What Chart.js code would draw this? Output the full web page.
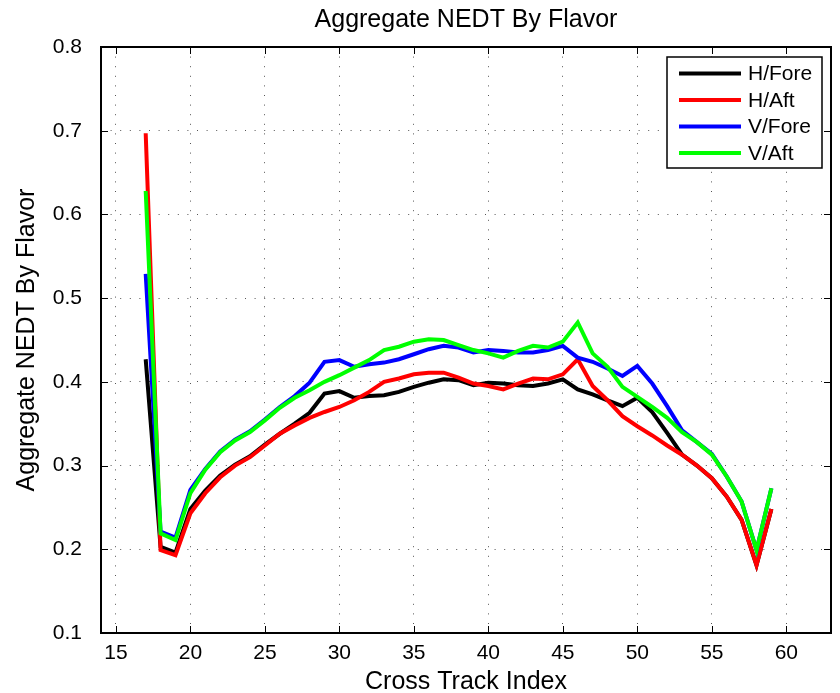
<!DOCTYPE html>
<html>
<head>
<meta charset="utf-8">
<script src="https://cdn.jsdelivr.net/npm/chart.js@4.4.1/dist/chart.umd.min.js"></script>
<style>
  html, body { margin: 0; padding: 0; background: #fff; }
  canvas { display: block; }
</style>
</head>
<body>
<canvas id="c" width="840" height="693"></canvas>
<script>
// ---- data ----
const trackIndex = [17,18,19,20,21,22,23,24,25,26,27,28,29,30,31,32,33,34,35,36,37,38,39,40,41,42,43,44,45,46,47,48,49,50,51,52,53,54,55,56,57,58,59];
const seriesNames = ['H/Fore', 'H/Aft', 'V/Fore', 'V/Aft'];
const hFore = [0.427,0.203,0.196,0.248,0.270,0.288,0.301,0.311,0.325,0.338,0.350,0.363,0.386,0.389,0.381,0.383,0.384,0.388,0.394,0.399,0.403,0.402,0.396,0.399,0.398,0.396,0.395,0.398,0.403,0.391,0.385,0.378,0.371,0.381,0.364,0.339,0.313,0.300,0.285,0.263,0.235,0.181,0.248];
const hAft  = [0.697,0.199,0.193,0.243,0.267,0.286,0.300,0.310,0.324,0.338,0.348,0.357,0.364,0.370,0.378,0.388,0.400,0.404,0.409,0.411,0.411,0.405,0.398,0.395,0.391,0.398,0.404,0.403,0.409,0.427,0.395,0.378,0.359,0.347,0.336,0.324,0.313,0.300,0.285,0.263,0.235,0.181,0.248];
const vFore = [0.529,0.221,0.214,0.271,0.296,0.317,0.331,0.341,0.355,0.370,0.383,0.399,0.424,0.426,0.418,0.421,0.423,0.427,0.433,0.439,0.443,0.441,0.435,0.438,0.437,0.435,0.435,0.438,0.443,0.429,0.424,0.416,0.407,0.419,0.398,0.371,0.342,0.328,0.314,0.287,0.257,0.199,0.273];
const vAft  = [0.628,0.219,0.211,0.267,0.295,0.316,0.330,0.340,0.354,0.369,0.381,0.390,0.400,0.408,0.417,0.426,0.438,0.442,0.448,0.451,0.450,0.444,0.438,0.434,0.429,0.437,0.443,0.441,0.448,0.471,0.434,0.418,0.394,0.382,0.370,0.357,0.340,0.328,0.313,0.287,0.257,0.199,0.273];
const xTicks = [15,20,25,30,35,40,45,50,55,60];
const yTicks = [0.1,0.2,0.3,0.4,0.5,0.6,0.7,0.8];
const chartTitle = 'Aggregate NEDT By Flavor';
const xTitle = 'Cross Track Index';
const yTitle = 'Aggregate NEDT By Flavor';

// ---- styling ----
const FONT = "'Liberation Sans', Arial, Helvetica, sans-serif";
const colors = ['#000000', '#ff0000', '#0000ff', '#00ff00'];
const allSeries = [hFore, hAft, vFore, vAft];

const datasets = allSeries.map((vals, i) => ({
  label: seriesNames[i],
  data: trackIndex.map((x, j) => ({ x: x, y: vals[j] })),
  borderColor: colors[i],
  backgroundColor: colors[i],
  borderWidth: 4,
  pointRadius: 0,
  tension: 0,
  fill: false,
  order: 4 - i
}));

const TICK_LEN = 7;

const framePlugin = {
  id: 'frame',
  afterDatasetsDraw(chart) {
    const { ctx, chartArea: a, scales } = chart;
    ctx.save();
    ctx.strokeStyle = '#000';
    ctx.lineWidth = 1;
    ctx.beginPath();
    xTicks.forEach(v => {
      const px = Math.round(scales.x.getPixelForValue(v)) + 0.5;
      ctx.moveTo(px, a.bottom); ctx.lineTo(px, a.bottom - TICK_LEN);
      ctx.moveTo(px, a.top); ctx.lineTo(px, a.top + TICK_LEN);
    });
    yTicks.forEach(v => {
      const py = Math.round(scales.y.getPixelForValue(v)) + 0.5;
      ctx.moveTo(a.left, py); ctx.lineTo(a.left + TICK_LEN, py);
      ctx.moveTo(a.right, py); ctx.lineTo(a.right - TICK_LEN, py);
    });
    ctx.stroke();
    ctx.lineWidth = 2;
    ctx.strokeRect(a.left, a.top, a.right - a.left, a.bottom - a.top);
    ctx.restore();
  },
  afterDraw(chart) {
    // legend box (inside plot, top-right)
    const { ctx, chartArea: a } = chart;
    const boxR = a.right - 9, boxT = a.top + 10, boxW = 155, boxH = 111;
    const boxL = boxR - boxW;
    ctx.save();
    ctx.fillStyle = '#fff';
    ctx.fillRect(boxL, boxT, boxW, boxH);
    ctx.strokeStyle = '#000';
    ctx.lineWidth = 1.5;
    ctx.strokeRect(boxL, boxT, boxW, boxH);
    ctx.font = '21px ' + FONT;
    ctx.textBaseline = 'middle';
    ctx.textAlign = 'left';
    chart.data.datasets.forEach((ds, i) => {
      const y = boxT + 16.5 + i * 26.5;
      ctx.strokeStyle = ds.borderColor;
      ctx.lineWidth = 4;
      ctx.beginPath();
      ctx.moveTo(boxL + 12, y);
      ctx.lineTo(boxL + 74, y);
      ctx.stroke();
      ctx.fillStyle = '#000';
      ctx.fillText(ds.label, boxL + 81, y + 1);
    });
    ctx.restore();
  }
};

new Chart(document.getElementById('c'), {
  type: 'line',
  data: { datasets },
  plugins: [framePlugin],
  options: {
    responsive: false,
    animation: false,
    layout: { padding: { left: 0, right: 9, top: 0, bottom: 0 } },
    plugins: {
      legend: { display: false },
      tooltip: { enabled: false },
      title: {
        display: true,
        text: chartTitle,
        fullSize: false,
        color: '#000',
        font: { family: FONT, size: 25, weight: 'normal', lineHeight: 1.2 },
        padding: { top: 5, bottom: 12 }
      }
    },
    scales: {
      x: {
        type: 'linear',
        min: 14,
        max: 63,
        afterBuildTicks: s => { s.ticks = xTicks.map(v => ({ value: v })); },
        afterFit: s => { s.height = 60; },
        grid: { color: '#555', lineWidth: 1, drawTicks: false },
        border: { display: false, dash: [1, 8.6] },
        ticks: {
          color: '#000',
          font: { family: FONT, size: 21 },
          padding: 8,
          maxRotation: 0,
          callback: v => String(v)
        },
        title: {
          display: true,
          text: xTitle,
          color: '#000',
          font: { family: FONT, size: 25, lineHeight: 0.9 },
          padding: { top: 0, bottom: 0 }
        }
      },
      y: {
        type: 'linear',
        min: 0.1,
        max: 0.8,
        afterBuildTicks: s => { s.ticks = yTicks.map(v => ({ value: v })); },
        afterFit: s => { s.width = 101; },
        grid: { color: '#555', lineWidth: 1, drawTicks: false },
        border: { display: false, dash: [1, 8.6] },
        ticks: {
          color: '#000',
          font: { family: FONT, size: 21 },
          padding: 19,
          callback: v => Number(v).toFixed(1)
        },
        title: {
          display: true,
          text: yTitle,
          color: '#000',
          font: { family: FONT, size: 25, lineHeight: 0.9 },
          padding: { top: 16, bottom: 0 }
        }
      }
    }
  }
});
</script>
</body>
</html>
